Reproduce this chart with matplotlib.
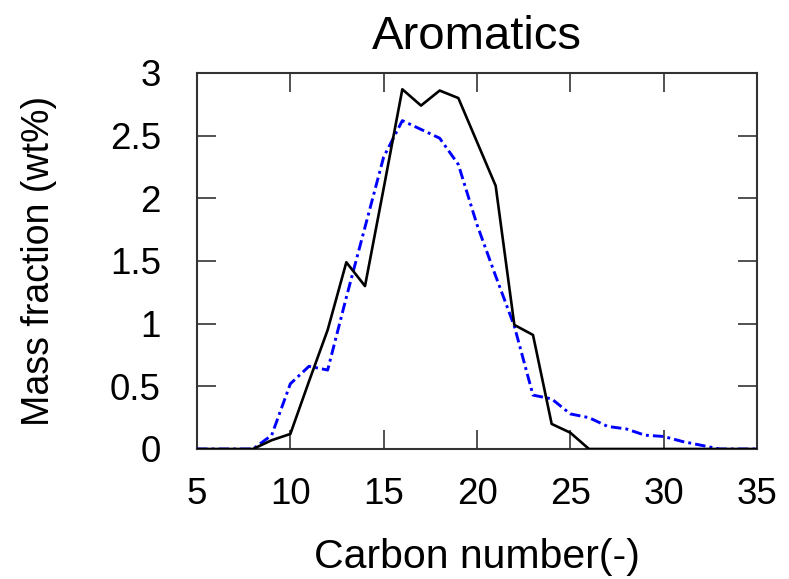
import matplotlib
matplotlib.use("Agg")
import matplotlib.pyplot as plt

plt.rcParams['font.family'] = ['Liberation Sans', 'DejaVu Sans']

carbon = list(range(5, 36))
measured = [0, 0, 0, 0, 0.07, 0.12, 0.54, 0.95, 1.49, 1.30,
            2.08, 2.87, 2.74, 2.86, 2.80, 2.45, 2.10, 0.99, 0.91, 0.20,
            0.13, 0, 0, 0, 0, 0, 0, 0, 0, 0, 0]
predicted = [0, 0, 0, 0, 0.11, 0.52, 0.66, 0.63, 1.21, 1.77,
             2.33, 2.62, 2.55, 2.48, 2.27, 1.79, 1.38, 0.98, 0.43, 0.40,
             0.28, 0.25, 0.18, 0.16, 0.11, 0.10, 0.06, 0.03, 0, 0, 0]
xticks = [5, 10, 15, 20, 25, 30, 35]
yticks = [0, 0.5, 1, 1.5, 2, 2.5, 3]
yticklabels = ['0', '0.5', '1', '1.5', '2', '2.5', '3']

fig = plt.figure(figsize=(7.89, 5.79), dpi=100)
ax = fig.add_axes([197/789, 1-449/579, (757-197)/789, (449-73)/579])

ax.plot(carbon, predicted, color='#0000FF', lw=2.1,
        linestyle=(0, (3.6, 1.4, 1.0, 1.4)), zorder=3)
ax.plot(carbon, measured, color='black', lw=1.9, zorder=4)

ax.set_xlim(5, 35)
ax.set_ylim(0, 3)
ax.set_xticks(xticks)
ax.set_xticklabels([str(t) for t in xticks])
ax.set_yticks(yticks)
ax.set_yticklabels(yticklabels)

ax.tick_params(direction='in', length=14, width=1.2, color='#333333',
               top=True, right=True, labelsize=26.5, pad=20)
ax.tick_params(axis='y', pad=26)
for s in ax.spines.values():
    s.set_linewidth(1.5)
    s.set_color('#333333')

ax.set_title('Aromatics', fontsize=34, pad=17)
ax.set_xlabel('Carbon number(-)', fontsize=29.5, labelpad=19)
ax.set_ylabel('Mass fraction (wt%)', fontsize=27, labelpad=38)

fig.savefig('out.png', dpi=100)
